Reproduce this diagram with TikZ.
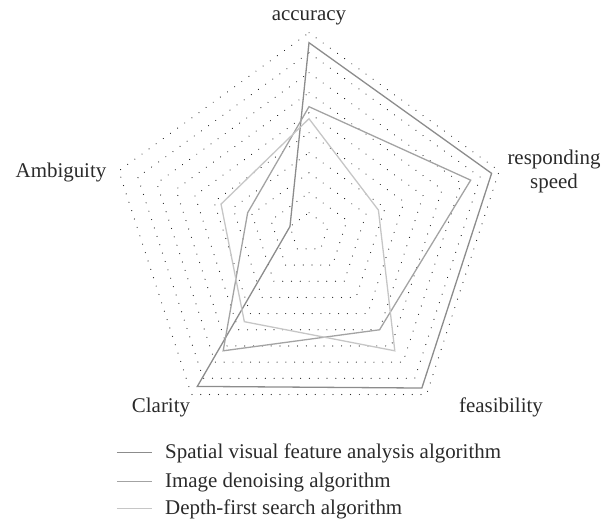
\documentclass[tikz,border=0pt]{standalone}
\usepackage{fontspec}
\setmainfont{Liberation Serif}
\definecolor{txt}{HTML}{2A2A2A}
\definecolor{sone}{HTML}{8C8C8C}
\definecolor{stwo}{HTML}{A3A3A3}
\definecolor{sthree}{HTML}{C6C6C6}
\begin{document}
\begin{tikzpicture}[x=1bp,y=1bp,
  gridline/.style={draw=black!85,line width=1.2bp,line cap=round,dash pattern=on 0.01bp off 8.8bp},
  serone/.style={draw=sone,line width=1.3bp,line join=miter},
  sertwo/.style={draw=stwo,line width=1.3bp,line join=miter},
  serthree/.style={draw=sthree,line width=1.3bp,line join=miter},
  lab/.style={font=\fontsize{21}{24}\selectfont,text=txt,inner sep=0pt,align=center},
  legtxt/.style={font=\fontsize{21}{24}\selectfont,text=txt,inner sep=0pt,anchor=west}]
\useasboundingbox (-309,-292.3) rectangle (293,232.7);
% grid
\foreach \k in {1,...,10}{
  \draw[gridline] (90:{20*\k}) -- (18:{20*\k}) -- (-54:{20*\k}) -- (-126:{20*\k}) -- (162:{20*\k}) -- cycle;
}
% series
\draw[serone] (90:190) -- (18:192) -- (-54:192) -- (-126:190) -- (162:20) -- cycle;
\draw[sertwo] (90:126) -- (18:170) -- (-54:120) -- (-126:146) -- (162:64.5) -- cycle;
\draw[serthree] (90:114) -- (18:73) -- (-54:146) -- (-126:110) -- (162:92.5) -- cycle;
% axis labels
\node[lab] (acc) at (0,214.5) {accuracy};
\node[lab] (resp) at (245,61) {responding\\speed};
\node[lab] (amb) at (-248,60) {Ambiguity};
\node[lab] (cla) at (-148,-175) {Clarity};
\node[lab] (fea) at (192,-175) {feasibility};
% legend
\coordinate (l1a) at (-192,-219.5); \coordinate (l1b) at (-157,-219.5);
\coordinate (l2a) at (-192,-248.5); \coordinate (l2b) at (-157,-248.5);
\coordinate (l3a) at (-192,-275.5); \coordinate (l3b) at (-157,-275.5);
\draw[serone] (l1a) -- (l1b);
\draw[sertwo] (l2a) -- (l2b);
\draw[serthree] (l3a) -- (l3b);
\node[legtxt] (t1) at (-144,-220.5) {Spatial visual feature analysis algorithm};
\node[legtxt] (t2) at (-144,-249.5) {Image denoising algorithm};
\node[legtxt] (t3) at (-144,-276.5) {Depth-first search algorithm};
\end{tikzpicture}
\end{document}
